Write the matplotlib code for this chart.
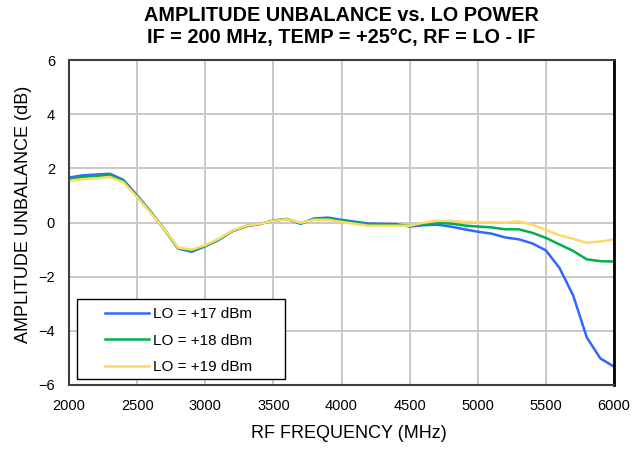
import matplotlib
matplotlib.use("Agg")
import matplotlib.pyplot as plt
from matplotlib.patches import Rectangle
import numpy as np

plt.rcParams['font.family'] = ['Liberation Sans', 'DejaVu Sans']

freq = [2000, 2100, 2200, 2300, 2400, 2500, 2600, 2700, 2800, 2900, 3000,
        3100, 3200, 3300, 3400, 3500, 3600, 3700, 3800, 3900, 4000,
        4100, 4200, 4300, 4400, 4500, 4600, 4700, 4800, 4900, 5000,
        5100, 5200, 5300, 5400, 5500, 5600, 5700, 5800, 5900, 6000]

lo17 = [1.66, 1.74, 1.77, 1.80, 1.57, 1.00, 0.40, -0.26, -0.96, -1.08, -0.88,
        -0.64, -0.32, -0.14, -0.06, 0.07, 0.13, -0.05, 0.15, 0.18, 0.10,
        0.03, -0.04, -0.05, -0.06, -0.15, -0.10, -0.08, -0.15, -0.25, -0.34,
        -0.41, -0.55, -0.62, -0.77, -1.03, -1.68, -2.69, -4.24, -5.02, -5.32]

lo18 = [1.60, 1.68, 1.71, 1.75, 1.53, 0.97, 0.38, -0.25, -0.95, -1.04, -0.86,
        -0.62, -0.31, -0.13, -0.05, 0.07, 0.13, -0.03, 0.13, 0.14, 0.07,
        0.00, -0.07, -0.08, -0.10, -0.12, -0.05, -0.02, -0.04, -0.11, -0.15,
        -0.18, -0.25, -0.25, -0.38, -0.57, -0.81, -1.05, -1.36, -1.43, -1.44]

lo19 = [1.54, 1.60, 1.63, 1.68, 1.48, 0.94, 0.36, -0.25, -0.93, -1.00, -0.84,
        -0.60, -0.30, -0.12, -0.05, 0.06, 0.12, -0.01, 0.10, 0.10, 0.02,
        -0.05, -0.12, -0.12, -0.12, -0.12, -0.01, 0.06, 0.07, 0.02, 0.01,
        0.01, 0.00, 0.04, -0.08, -0.27, -0.47, -0.60, -0.75, -0.70, -0.63]

labels = ['LO = +17 dBm', 'LO = +18 dBm', 'LO = +19 dBm']
colors = ['#3366FF', '#00B050', '#FFD966']

fig = plt.figure(figsize=(6.34, 4.49), dpi=100)
ax = fig.add_axes([69/634, 1-385/449, (614-69)/634, (385-60)/449])

for y, lab, c in zip([lo17, lo18, lo19], labels, colors):
    ax.plot(freq, y, color=c, lw=1.8, label=lab)

ax.set_xlim(2000, 6000)
ax.set_ylim(-6, 6)
ax.set_xticks(np.arange(2000, 6001, 500))
ax.set_yticks(np.arange(-6, 7, 2))
ax.grid(True, color='#C8C8C8', lw=1.4)
ax.set_axisbelow(True)
ax.tick_params(length=0, labelsize=10.5, pad=10)
for s in ax.spines.values():
    s.set_color('#404040')
    s.set_linewidth(1.5)
ax.spines['right'].set_color('black')
ax.spines['right'].set_linewidth(2)

ax.set_xlabel('RF FREQUENCY (MHz)', fontsize=13)
ax.xaxis.set_label_coords(0.5127, -0.123)
ax.set_ylabel('AMPLITUDE UNBALANCE (dB)', fontsize=13)
ax.yaxis.set_label_coords(-0.068, 0.526)
ax.set_title('AMPLITUDE UNBALANCE vs. LO POWER\nIF = 200 MHz, TEMP = +25°C, RF = LO - IF',
             fontsize=14.3, fontweight='bold', pad=12, linespacing=1.2)

# legend frame
ax.add_patch(Rectangle((0.0147, 0.0185), 0.3817, 0.246, transform=ax.transAxes,
                       facecolor='white', edgecolor='black', lw=1.0, zorder=4))
leg = ax.legend(loc='center left', bbox_to_anchor=(0.066, 0.136), fontsize=11,
                frameon=False, handlelength=2.88, handletextpad=0.26,
                borderpad=0, borderaxespad=0, labelspacing=0.81)
leg.set_zorder(5)

fig.savefig('out.png', dpi=100)
